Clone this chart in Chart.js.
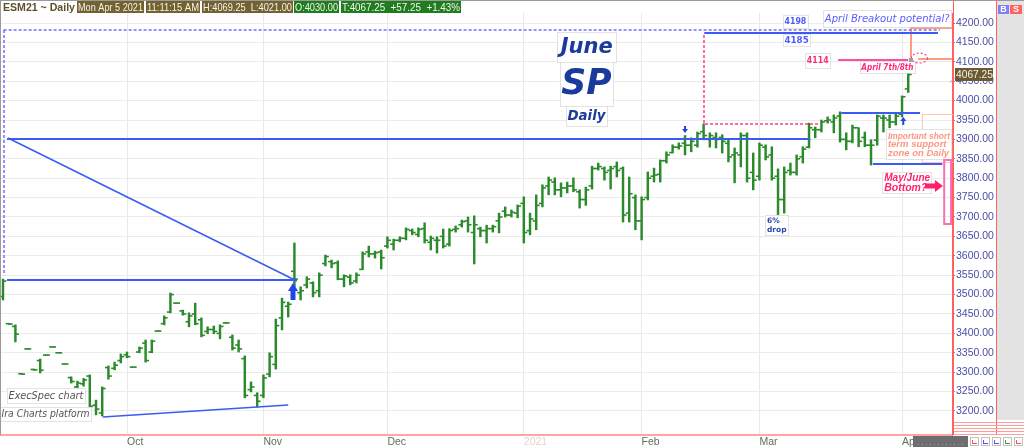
<!DOCTYPE html>
<html><head><meta charset="utf-8">
<script src="https://cdn.jsdelivr.net/npm/chart.js@4.4.1/dist/chart.umd.min.js"></script>
<style>html,body{margin:0;padding:0;background:#fff;overflow:hidden}canvas{display:block}</style>
</head><body>
<canvas id="c" width="1024" height="447"></canvas>
<script>
// ---- DATA (ESM21 daily) ----
const dates = [
 '9/2','9/3','9/4','9/8','9/9','9/10','9/11','9/14','9/15','9/16','9/17','9/18','9/21','9/22','9/23','9/24','9/25','9/28','9/29','9/30',
 '10/1','10/2','10/5','10/6','10/7','10/8','10/9','10/12','10/13','10/14','10/15','10/16','10/19','10/20','10/21','10/22','10/23','10/26','10/27','10/28','10/29','10/30',
 '11/2','11/3','11/4','11/5','11/6','11/9','11/10','11/11','11/12','11/13','11/16','11/17','11/18','11/19','11/20','11/23','11/24','11/25','11/27','11/30',
 '12/1','12/2','12/3','12/4','12/7','12/8','12/9','12/10','12/11','12/14','12/15','12/16','12/17','12/18','12/21','12/22','12/23','12/24','12/28','12/29','12/30','12/31',
 '1/4','1/5','1/6','1/7','1/8','1/11','1/12','1/13','1/14','1/15','1/19','1/20','1/21','1/22','1/25','1/26','1/27','1/28','1/29',
 '2/1','2/2','2/3','2/4','2/5','2/8','2/9','2/10','2/11','2/12','2/16','2/17','2/18','2/19','2/22','2/23','2/24','2/25','2/26',
 '3/1','3/2','3/3','3/4','3/5','3/8','3/9','3/10','3/11','3/12','3/15','3/16','3/17','3/18','3/19','3/22','3/23','3/24','3/25','3/26','3/29','3/30','3/31',
 '4/1','4/5'];
const opens = [
 3495,3425,3418,3296,3360,3307,3330,3344,3365,3350, 3321,3286,3262,3270,3290,3215,3195,3312,3310,3330,
 3345,3313,3352,3375,3352,3406,3425,3455,3478,3458, 3430,3450,3435,3405,3410,3400,3427,3390,3370,3335,
 3255,3240,3240,3295,3320,3440,3470,3560,3505,3525, 3530,3510,3580,3585,3582,3540,3545,3535,3565,3610,
 3605,3610,3625,3630,3640,3645,3665,3655,3670,3635, 3640,3650,3630,3668,3680,3690,3660,3670,3665,3670,
 3690,3715,3705,3710,3735,3665,3690,3735,3780,3790, 3770,3775,3780,3765,3745,3780,3825,3825,3820,3830,
 3825,3710,3750,3690,3750,3805,3810,3845,3866,3880, 3890,3885,3885,3920,3900,3905,3905,3890,3860,3860,
 3910,3815,3805,3880,3860,3805,3745,3820,3815,3855, 3880,3925,3925,3948,3945,3960,3900,3895,3930,3905,
 3885,3898,3955,3950,3945,3965,4030];
const highs = [
 3540,3426,3422,3297,3361,3308,3334,3345,3366,3351, 3322,3288,3277,3284,3293,3228,3262,3316,3326,3347,
 3352,3314,3365,3383,3383,3407,3445,3504,3479,3460, 3453,3478,3440,3417,3419,3422,3428,3396,3383,3342,
 3275,3247,3293,3350,3437,3491,3481,3633,3520,3546, 3533,3556,3602,3589,3587,3551,3551,3556,3610,3625,
 3612,3615,3649,3643,3649,3672,3669,3672,3685,3651, 3649,3669,3670,3677,3692,3700,3703,3674,3679,3679,
 3710,3726,3718,3731,3752,3710,3757,3783,3803,3801, 3788,3790,3801,3770,3777,3831,3839,3829,3831,3842,
 3829,3803,3757,3752,3816,3826,3847,3868,3886,3891, 3910,3904,3919,3940,3917,3917,3912,3899,3878,3917,
 3917,3865,3891,3886,3881,3824,3829,3839,3860,3881, 3942,3932,3950,3958,3963,3971,3917,3937,3930,3919,
 3899,3963,3963,3963,3968,4012,4069.25];
const lows = [
 3486,3423,3378,3294,3359,3305,3298,3343,3364,3349, 3320,3272,3258,3264,3208,3190,3187,3282,3306,3324,
 3337,3312,3350,3326,3350,3405,3422,3453,3477,3447, 3417,3422,3391,3399,3399,3386,3426,3357,3352,3234,
 3249,3210,3234,3288,3308,3409,3442,3520,3486,3517, 3494,3494,3574,3569,3538,3520,3525,3530,3564,3597,
 3594,3566,3620,3615,3636,3641,3654,3649,3633,3615, 3607,3620,3625,3661,3674,3661,3579,3649,3633,3661,
 3659,3700,3700,3698,3633,3654,3667,3726,3757,3757, 3752,3762,3765,3723,3730,3772,3821,3795,3772,3803,
 3687,3687,3667,3641,3744,3790,3790,3839,3865,3875, 3860,3868,3880,3899,3880,3878,3865,3842,3788,3829,
 3790,3770,3795,3847,3795,3705,3710,3808,3808,3839, 3878,3904,3919,3942,3917,3893,3873,3891,3881,3881,
 3834,3885,3919,3930,3937,3958,4021];
const closes = [
 3535,3424,3398,3295,3360,3306,3305,3344,3365,3350, 3321,3276,3272,3280,3212,3205,3258,3290,3318,3340,
 3340,3313,3362,3330,3380,3406,3440,3500,3478,3450, 3445,3425,3395,3410,3405,3418,3427,3362,3360,3240,
 3262,3225,3285,3340,3420,3480,3475,3540,3510,3540, 3505,3550,3598,3580,3540,3548,3530,3550,3605,3605,
 3608,3595,3640,3640,3645,3668,3660,3668,3640,3645, 3640,3625,3665,3670,3688,3680,3680,3665,3670,3675,
 3700,3705,3712,3728,3660,3695,3730,3775,3795,3770, 3775,3780,3770,3745,3770,3825,3830,3815,3825,3820,
 3705,3760,3690,3745,3800,3808,3845,3860,3880,3883, 3885,3895,3915,3910,3910,3900,3895,3855,3865,3910,
 3800,3795,3885,3855,3800,3745,3815,3815,3850,3875, 3930,3925,3945,3950,3955,3900,3895,3930,3895,3885,
 3885,3960,3955,3945,3960,4010,4067.25];
const monthTickIdx = [20, 42, 62, 84, 103, 122, 145];
const monthLabels = ['Oct', 'Nov', 'Dec', '2021', 'Feb', 'Mar', 'Apr'];
const priceTicks = [3200,3250,3300,3350,3400,3450,3500,3550,3600,3650,3700,3750,3800,3850,3900,3950,4000,4050,4100,4150,4200];
const lastPrice = 4067.25;

// ---- annotation geometry in data units (bar index, price) ----
const BLUE = '#3a5cf2', PINK = '#ff3d8b', SALMON = '#ff9a7e', GREEN = '#2b8a2b';
const annLines = [
  {pts: [[0.1, 4182], [151.1, 4182]], color: '#6f6fff', w: 1.5, dash: [3, 2]},
  {pts: [[0.16, 4182], [0.16, 3550]], color: '#6f6fff', w: 1.5, dash: [3, 2]},
  {pts: [[0.65, 3901], [130.2, 3901]], color: BLUE, w: 2},
  {pts: [[0.8, 3903.6], [47.4, 3535]], color: BLUE, w: 1.5},
  {pts: [[0.65, 3537.6], [47.4, 3537.6]], color: BLUE, w: 2},
  {pts: [[16.1, 3184.5], [46.0, 3215.5]], color: BLUE, w: 1.5},
  {pts: [[135.2, 3968], [147.9, 3968]], color: BLUE, w: 2},
  {pts: [[140.3, 3836.6], [151.5, 3836.6]], color: BLUE, w: 2},
  {pts: [[113.1, 4174.2], [150.8, 4174.2]], color: BLUE, w: 2},
  {pts: [[113.06, 4169], [113.06, 3939.7], [131.8, 3939.7]], color: PINK, w: 1.5, dash: [3, 2]},
  {pts: [[134.7, 4104.6], [146.0, 4104.6]], color: '#ff4da6', w: 2},
  {pts: [[146.45, 4104.6], [146.45, 4187], [153.06, 4187]], color: SALMON, w: 2},
  {pts: [[147.6, 4107.2], [153.06, 4107.2]], color: SALMON, w: 2}
];
const LS = '"Liberation Sans"', DV = '"DejaVu Sans"';
const textBoxes = [
  {x0: 125.8, x1: 129.8, y0: 4220.6, y1: 4187.1, lines: ['4198'], font: 'bold 9px ' + DV, color: '#4a5cff'},
  {x0: 125.8, x1: 130.2, y0: 4171.6, y1: 4140.7, lines: ['4185'], font: 'bold 9px ' + DV, color: '#4a5cff'},
  {x0: 132.3, x1: 152.9, y0: 4233.5, y1: 4189.7, lines: ['April Breakout potential?'], font: 'italic 11px ' + DV, color: '#5a5aff'},
  {x0: 129.4, x1: 133.4, y0: 4122.7, y1: 4084.0, lines: ['4114'], font: 'bold 9px ' + DV, color: '#ff2a7a'},
  {x0: 138.2, x1: 147.1, y0: 4102.0, y1: 4071.1, lines: ['April 7th/8th'], font: 'bold italic 8.5px ' + DV, color: '#ff2a7a'},
  {x0: 89.4, x1: 98.9, y0: 4176.8, y1: 4099.5, lines: ['June'], font: 'bold italic 21px ' + DV, color: '#1a3a9c'},
  {x0: 89.8, x1: 98.4, y0: 4099.5, y1: 3986.1, lines: ['SP'], font: 'bold italic 36px ' + DV, color: '#1a3a9c'},
  {x0: 90.8, x1: 97.4, y0: 3986.1, y1: 3934.5, lines: ['Daily'], font: 'bold italic 14px ' + DV, color: '#1a3a9c'},
  {x0: 142.4, x1: 152.9, y0: 3926.8, y1: 3849.5, lines: ['Important short', 'term support', 'zone on Daily'], font: 'bold italic 9.5px ' + LS, color: '#ff9680', align: 'left', lh: 8.5},
  {x0: 141.8, x1: 149.7, y0: 3816.0, y1: 3761.9, lines: ['May/June', 'Bottom?'], font: 'bold italic 10.5px ' + LS, color: '#ff1f6b', align: 'left', lh: 9.5},
  {x0: 122.9, x1: 126.6, y0: 3705.2, y1: 3653.6, lines: ['6%', 'drop'], font: 'bold 7.5px ' + DV, color: '#2a4ab0', align: 'left', lh: 8.5},
  {x0: 0.65, x1: 13.2, y0: 3259.3, y1: 3220.6, lines: ['ExecSpec chart'], font: 'italic 10.5px ' + DV, color: '#555555'},
  {x0: -0.48, x1: 14.2, y0: 3210.3, y1: 3174.2, lines: ['Ira Charts platform'], font: 'italic 10.5px ' + DV, color: '#555555'}
];
const blueArrows = [
  {x: 46.77, tip: 3530, base: 3486, shaft: 5, head: 10, headLen: 8},
  {x: 110.0, tip: 3916.5, base: 3934.5, shaft: 2, head: 6, headLen: 4},
  {x: 145.2, tip: 3957.7, base: 3937, shaft: 2, head: 6, headLen: 4}
];

// ---- chart ----
const barData = dates.map((d, i) => ({x: i, y: [lows[i], highs[i]]}));
const openData = dates.map((d, i) => ({x: i - 0.3, y: opens[i]}));
const closeData = dates.map((d, i) => ({x: i + 0.3, y: closes[i]}));

const lineSets = annLines.map(l => ({
  type: 'line', data: l.pts.map(p => ({x: p[0], y: p[1]})), borderColor: l.color, borderWidth: l.w,
  borderDash: l.dash || [], pointRadius: 0, fill: false, tension: 0, order: 1
}));

function boxPx(chart, b) {
  const xs = chart.scales.x, ys = chart.scales.y;
  return {x0: xs.getPixelForValue(b.x0), x1: xs.getPixelForValue(b.x1), y0: ys.getPixelForValue(b.y0), y1: ys.getPixelForValue(b.y1)};
}

const overlay = {
  id: 'overlay',
  beforeDraw(chart) {
    const c = chart.ctx;
    c.save();
    c.fillStyle = '#ffffff'; c.fillRect(0, 0, 1024, 447);
    c.fillStyle = '#e3e3e3'; c.fillRect(997, 0, 27, 420);
    c.restore();
  },
  afterDraw(chart) {
    const c = chart.ctx, xs = chart.scales.x, ys = chart.scales.y;
    c.save();
    // salmon faint zone rectangle
    {
      const x0 = xs.getPixelForValue(148.2), x1 = xs.getPixelForValue(153.2);
      const y0 = ys.getPixelForValue(3965.5), y1 = ys.getPixelForValue(3841.8);
      c.strokeStyle = '#ffc4b4'; c.lineWidth = 1; c.strokeRect(x0 + 0.5, y0 + 0.5, x1 - x0, y1 - y0);
    }
    // text boxes
    textBoxes.forEach(b => {
      const p = boxPx(chart, b);
      c.fillStyle = '#ffffff';
      c.fillRect(p.x0, p.y0, p.x1 - p.x0, p.y1 - p.y0);
      c.setLineDash([1, 1]); c.strokeStyle = '#c4c4c4'; c.lineWidth = 1;
      c.strokeRect(Math.round(p.x0) + 0.5, Math.round(p.y0) + 0.5, Math.round(p.x1 - p.x0), Math.round(p.y1 - p.y0));
      c.setLineDash([]);
      c.font = b.font; c.fillStyle = b.color; c.textBaseline = 'middle';
      const lh = b.lh || 0, n = b.lines.length;
      const cy = (p.y0 + p.y1) / 2;
      const mw = p.x1 - p.x0 - 3;
      b.lines.forEach((t, k) => {
        const y = cy + (k - (n - 1) / 2) * lh + 0.5;
        if (b.align === 'left') { c.textAlign = 'left'; c.fillText(t, p.x0 + 2, y, mw); }
        else { c.textAlign = 'center'; c.fillText(t, (p.x0 + p.x1) / 2, y, mw); }
      });
    });
    // blue arrows
    c.fillStyle = '#1f45e6';
    blueArrows.forEach(a => {
      const x = xs.getPixelForValue(a.x), yt = ys.getPixelForValue(a.tip), yb = ys.getPixelForValue(a.base);
      const dir = yb > yt ? 1 : -1;
      c.beginPath();
      c.moveTo(x, yt);
      c.lineTo(x + a.head / 2, yt + dir * a.headLen);
      c.lineTo(x + a.shaft / 2, yt + dir * a.headLen);
      c.lineTo(x + a.shaft / 2, yb);
      c.lineTo(x - a.shaft / 2, yb);
      c.lineTo(x - a.shaft / 2, yt + dir * a.headLen);
      c.lineTo(x - a.head / 2, yt + dir * a.headLen);
      c.closePath(); c.fill();
    });
    // pink arrow to the right
    {
      const xa = xs.getPixelForValue(148.7), xb = xs.getPixelForValue(151.6), y = ys.getPixelForValue(3780);
      c.fillStyle = '#ff1f6b';
      c.fillRect(xa, y - 2.5, xb - xa - 7, 5);
      c.beginPath(); c.moveTo(xb, y); c.lineTo(xb - 8, y - 6); c.lineTo(xb - 8, y + 6); c.closePath(); c.fill();
    }
    // pink bottom zone rectangle
    {
      const x0 = xs.getPixelForValue(151.8), x1 = xs.getPixelForValue(152.9);
      const y0 = ys.getPixelForValue(3847), y1 = ys.getPixelForValue(3682);
      c.strokeStyle = '#ff6eb4'; c.lineWidth = 2; c.strokeRect(x0, y0, x1 - x0, y1 - y0);
    }
    // dashed pink ellipse + gray marker
    {
      const x = xs.getPixelForValue(147.8), y = ys.getPixelForValue(4109.8);
      c.strokeStyle = '#ff3d9a'; c.lineWidth = 1.2; c.setLineDash([2, 2]);
      c.beginPath(); c.ellipse(x, y, 8, 5, 0, 0, Math.PI * 2); c.stroke(); c.setLineDash([]);
      c.fillStyle = '#a0a0a0'; c.fillRect(xs.getPixelForValue(146.45) - 2, ys.getPixelForValue(4104.6) - 2, 4, 4);
    }
    // last price marker on axis
    {
      const y = ys.getPixelForValue(lastPrice);
      c.fillStyle = '#6b5a2e'; c.fillRect(955, y - 6.5, 38, 13);
      c.fillStyle = '#f2f2f2'; c.font = '10.5px ' + LS; c.textAlign = 'left'; c.textBaseline = 'middle';
      c.fillText(lastPrice.toFixed(2), 956, y + 0.5, 37);
      c.strokeStyle = '#999'; c.lineWidth = 1; c.beginPath(); c.moveTo(950, y + 8); c.lineTo(955, y + 3); c.stroke();
    }
    // header
    c.fillStyle = '#ffffff'; c.fillRect(1, 1, 460, 12);
    c.font = 'bold 11px ' + LS; c.fillStyle = '#5c4f2a'; c.textAlign = 'left'; c.textBaseline = 'middle';
    c.fillText('ESM21 ~ Daily', 3, 7.5, 72);
    const hdr = [
      [77, 144, '#73612f', 'Mon Apr 5 2021'],
      [146, 200, '#73612f', '11:11:15 AM'],
      [202, 293, '#73612f', 'H:4069.25  L:4021.00'],
      [294, 339, '#1f7d1f', 'O:4030.00'],
      [341, 461, '#1f7d1f', 'T:4067.25  +57.25  +1.43%']
    ];
    c.font = '11px ' + LS;
    hdr.forEach(h => {
      c.fillStyle = h[2]; c.fillRect(h[0], 1, h[1] - h[0], 12);
      c.fillStyle = '#f4f4ec'; c.fillText(h[3], h[0] + 1, 7.5, h[1] - h[0] - 2);
    });
    // frame lines
    c.strokeStyle = '#9a9a9a'; c.lineWidth = 1;
    c.beginPath(); c.moveTo(0, 0.5); c.lineTo(1024, 0.5); c.stroke();
    c.beginPath(); c.moveTo(0.5, 0); c.lineTo(0.5, 435); c.stroke();
    c.strokeStyle = '#ff6060';
    c.beginPath(); c.moveTo(953.5, 0); c.lineTo(953.5, 435); c.stroke();
    c.beginPath(); c.moveTo(996.5, 0); c.lineTo(996.5, 435); c.stroke();
    c.strokeStyle = '#ff9c9c';
    [422, 425, 428, 431, 434].forEach(y => { c.beginPath(); c.moveTo(954, y + 0.5); c.lineTo(1024, y + 0.5); c.stroke(); });
    // B / S buttons
    c.font = 'bold 9px ' + LS; c.textAlign = 'center';
    c.fillStyle = '#7f7ff5'; c.fillRect(998, 5, 11, 9); c.fillStyle = '#fff'; c.fillText('B', 1003.5, 9.8);
    c.fillStyle = '#ff6464'; c.fillRect(1010, 5, 12, 9); c.fillStyle = '#fff'; c.fillText('S', 1016, 9.8);
    // bottom strip
    c.fillStyle = '#6e6e6e'; c.fillRect(913, 436, 55, 11);
    c.fillStyle = '#9a9a9a'; for (let x = 918; x < 964; x += 4) c.fillRect(x, 444, 1, 1);
    const btn = ['#ff5050', '#5050ff', '#5050ff', '#40a040', '#ff5050'];
    btn.forEach((col, k) => {
      const x = 970 + k * 11;
      c.fillStyle = '#ffffff'; c.fillRect(x, 437, 9, 9);
      c.strokeStyle = '#c0c0c0'; c.strokeRect(x + 0.5, 437.5, 8, 8);
      c.strokeStyle = col; c.beginPath(); c.moveTo(x + 2, 443.5); c.lineTo(x + 7, 443.5); c.moveTo(x + 2.5, 440); c.lineTo(x + 2.5, 444); c.stroke();
    });
    c.restore();
  }
};

new Chart(document.getElementById('c'), {
  type: 'line',
  data: {
    datasets: [
      ...lineSets,
      {type: 'bar', data: barData, backgroundColor: GREEN, borderWidth: 0, barThickness: 1.8, order: 10},
      {type: 'line', data: openData, showLine: false, pointStyle: 'line', pointRadius: 1.6, borderColor: GREEN, borderWidth: 1.6, order: 9},
      {type: 'line', data: closeData, showLine: false, pointStyle: 'line', pointRadius: 1.6, borderColor: GREEN, borderWidth: 1.6, order: 9}
    ]
  },
  options: {
    responsive: false, animation: false, devicePixelRatio: 1,
    layout: {autoPadding: false, padding: {top: 13, right: 28, left: 0, bottom: 0}},
    plugins: {legend: {display: false}, tooltip: {enabled: false}, title: {display: false}},
    events: [],
    scales: {
      x: {
        type: 'linear', min: -0.484, max: 153.06, offset: false,
        afterBuildTicks: s => { s.ticks = monthTickIdx.map(v => ({value: v})); },
        afterFit: s => { s.height = 12; },
        grid: {color: '#e9e9e9', offset: false, drawTicks: false},
        border: {display: true, color: '#ffa3a3', width: 2},
        ticks: {
          autoSkip: false, maxRotation: 0, align: 'start', padding: 1,
          font: {family: 'Liberation Sans', size: 10.5},
          color: ctx => ctx.index === 3 ? '#e6d2d2' : '#5f6d5f',
          callback: v => monthLabels[monthTickIdx.indexOf(v)]
        }
      },
      y: {
        type: 'linear', position: 'right', min: 3138.1, max: 4225.8,
        afterBuildTicks: s => { s.ticks = priceTicks.map(v => ({value: v})); },
        afterFit: s => { s.width = 44; },
        grid: {color: '#ebebeb', tickLength: 3, tickColor: '#8a8a8a'},
        border: {display: true, color: '#ff6060', width: 1},
        ticks: {
          padding: 1, font: {family: 'Liberation Sans', size: 10.5}, color: '#4b4ba8',
          callback: v => Number(v).toFixed(2)
        }
      }
    }
  },
  plugins: [overlay]
});
</script>
</body></html>
